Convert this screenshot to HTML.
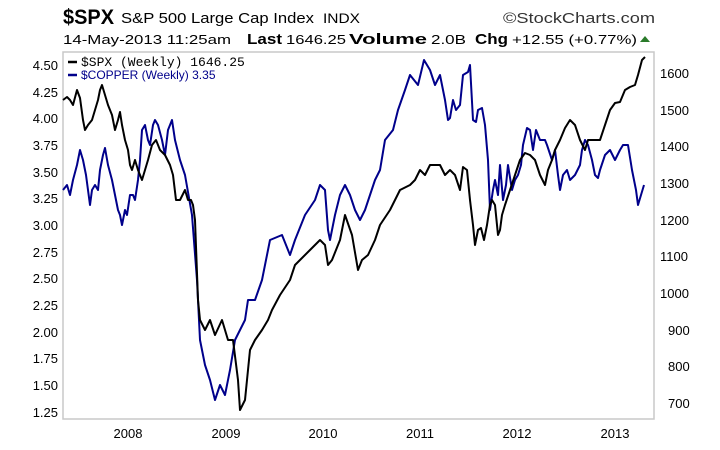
<!DOCTYPE html>
<html><head><style>
body{margin:0;background:#fff;}
svg text{font-family:"Liberation Sans",Arial,sans-serif;}
</style></head><body>
<svg width="720" height="445" xmlns="http://www.w3.org/2000/svg">
<text x="63" y="24" font-size="21" font-weight="bold" fill="#000" textLength="51" lengthAdjust="spacingAndGlyphs">$SPX</text>
<text x="121" y="23" font-size="15" fill="#000" textLength="193" lengthAdjust="spacingAndGlyphs">S&amp;P 500 Large Cap Index</text>
<text x="323" y="23" font-size="14" fill="#000" textLength="37" lengthAdjust="spacingAndGlyphs">INDX</text>
<text x="503" y="23" font-size="15" fill="#333" textLength="152" lengthAdjust="spacingAndGlyphs">©StockCharts.com</text>
<text x="63" y="44" font-size="13" fill="#000" textLength="168" lengthAdjust="spacingAndGlyphs">14-May-2013 11:25am</text>
<text x="247" y="44" font-size="15" font-weight="bold" fill="#000" textLength="35" lengthAdjust="spacingAndGlyphs">Last</text>
<text x="286" y="44" font-size="13" fill="#000" textLength="60" lengthAdjust="spacingAndGlyphs">1646.25</text>
<text x="349" y="44" font-size="15" font-weight="bold" fill="#000" textLength="78" lengthAdjust="spacingAndGlyphs">Volume</text>
<text x="431" y="44" font-size="13" fill="#000" textLength="35" lengthAdjust="spacingAndGlyphs">2.0B</text>
<text x="475" y="44" font-size="15" font-weight="bold" fill="#000" textLength="33" lengthAdjust="spacingAndGlyphs">Chg</text>
<text x="512" y="44" font-size="13" fill="#000" textLength="125" lengthAdjust="spacingAndGlyphs">+12.55 (+0.77%)</text>
<polygon points="640,42 650,42 645,36" fill="#2a7a2a"/>
<rect x="63" y="52" width="591" height="367" fill="none" stroke="#c8c8c8" stroke-width="1.5"/>
<g font-size="13" fill="#000" text-anchor="end">
<text x="58" y="70">4.50</text><text x="58" y="97">4.25</text><text x="58" y="123">4.00</text>
<text x="58" y="150">3.75</text><text x="58" y="177">3.50</text><text x="58" y="203">3.25</text>
<text x="58" y="230">3.00</text><text x="58" y="257">2.75</text><text x="58" y="283">2.50</text>
<text x="58" y="310">2.25</text><text x="58" y="337">2.00</text><text x="58" y="363">1.75</text>
<text x="58" y="390">1.50</text><text x="58" y="417">1.25</text>
</g>
<g font-size="13" fill="#000">
<text x="660" y="78">1600</text><text x="660" y="115">1500</text><text x="660" y="151">1400</text>
<text x="660" y="188">1300</text><text x="660" y="225">1200</text><text x="660" y="261">1100</text>
<text x="660" y="298">1000</text><text x="668" y="335">900</text><text x="668" y="371">800</text>
<text x="668" y="408">700</text>
</g>
<g font-size="13" fill="#000" text-anchor="middle">
<text x="128" y="438">2008</text><text x="226" y="438">2009</text><text x="323" y="438">2010</text>
<text x="420" y="438">2011</text><text x="517" y="438">2012</text><text x="615" y="438">2013</text>
</g>
<polyline fill="none" stroke="#00008b" stroke-width="2" stroke-linejoin="round" points="63,190 67,185 70,195 73,180 77,165 80,150 83,160 86,175 88,190 90,205 92,190 95,185 98,190 100,170 103,155 105,148 108,165 112,180 115,195 118,210 120,215 122,225 125,210 127,215 130,195 133,195 135,200 138,180 140,160 142,130 145,125 148,140 150,145 153,125 155,120 158,125 162,140 165,155 168,130 170,125 172,120 175,140 180,160 185,175 192,215 197,280 200,340 205,365 210,380 215,400 220,385 225,395 230,370 235,340 240,330 245,320 248,300 255,300 262,280 270,240 282,235 290,255 295,240 305,215 315,200 320,185 325,190 328,230 330,240 335,215 340,195 345,185 350,195 355,210 360,220 365,210 370,195 375,180 380,170 385,140 393,130 398,110 405,90 410,75 418,85 424,60 430,70 435,85 440,75 445,100 448,120 450,118 453,100 456,110 460,105 463,75 468,72 470,65 473,120 476,122 478,110 482,108 485,125 488,160 490,210 493,190 495,180 498,195 500,165 503,200 506,185 508,165 512,190 515,180 518,175 521,165 523,145 527,128 530,130 533,150 536,130 540,140 545,140 547,145 552,160 555,150 558,175 560,190 563,175 567,170 570,180 575,175 580,165 582,150 585,140 588,145 592,160 595,175 598,178 600,170 605,155 610,150 615,160 620,150 623,145 628,145 632,170 636,190 638,205 641,195 644,185"/>
<polyline fill="none" stroke="#000" stroke-width="2" stroke-linejoin="round" points="63,100 67,97 70,100 73,105 77,90 80,98 83,120 85,130 88,125 92,120 95,110 98,100 100,90 102,85 105,95 108,105 112,115 115,130 118,120 120,112 122,125 125,140 128,150 130,165 132,170 135,160 138,170 140,175 142,180 145,170 148,160 152,145 156,140 160,150 165,155 170,165 173,175 176,200 180,200 185,190 188,200 191,200 193,205 195,220 198,300 200,320 205,330 210,320 215,335 222,320 228,340 233,340 238,380 240,410 245,400 250,350 255,340 262,330 268,320 272,310 280,295 290,280 295,265 300,260 310,250 320,240 325,245 328,265 332,260 340,240 345,215 352,235 358,270 362,260 368,255 375,240 380,225 390,210 395,200 400,190 410,185 415,180 420,170 425,175 430,165 440,165 445,175 450,170 455,175 460,190 463,167 467,170 470,200 473,225 475,245 478,230 481,228 484,240 487,225 490,205 492,200 495,205 498,235 500,230 502,215 505,205 510,190 515,175 520,160 525,153 530,155 535,160 540,175 545,185 548,170 552,160 555,150 560,140 565,128 570,120 575,125 580,140 585,150 588,140 592,140 600,140 605,125 610,110 615,103 620,102 625,90 630,87 635,85 638,75 642,60 645,57"/>
<line x1="68" y1="62" x2="77" y2="62" stroke="#000" stroke-width="2.5"/>
<text x="81" y="66" font-size="13" fill="#000" style="font-family:'Liberation Mono',monospace">$SPX (Weekly) 1646.25</text>
<line x1="68" y1="75" x2="77" y2="75" stroke="#00008b" stroke-width="2.5"/>
<text x="81" y="79" font-size="12" fill="#00008b">$COPPER (Weekly) 3.35</text>
</svg>
</body></html>
